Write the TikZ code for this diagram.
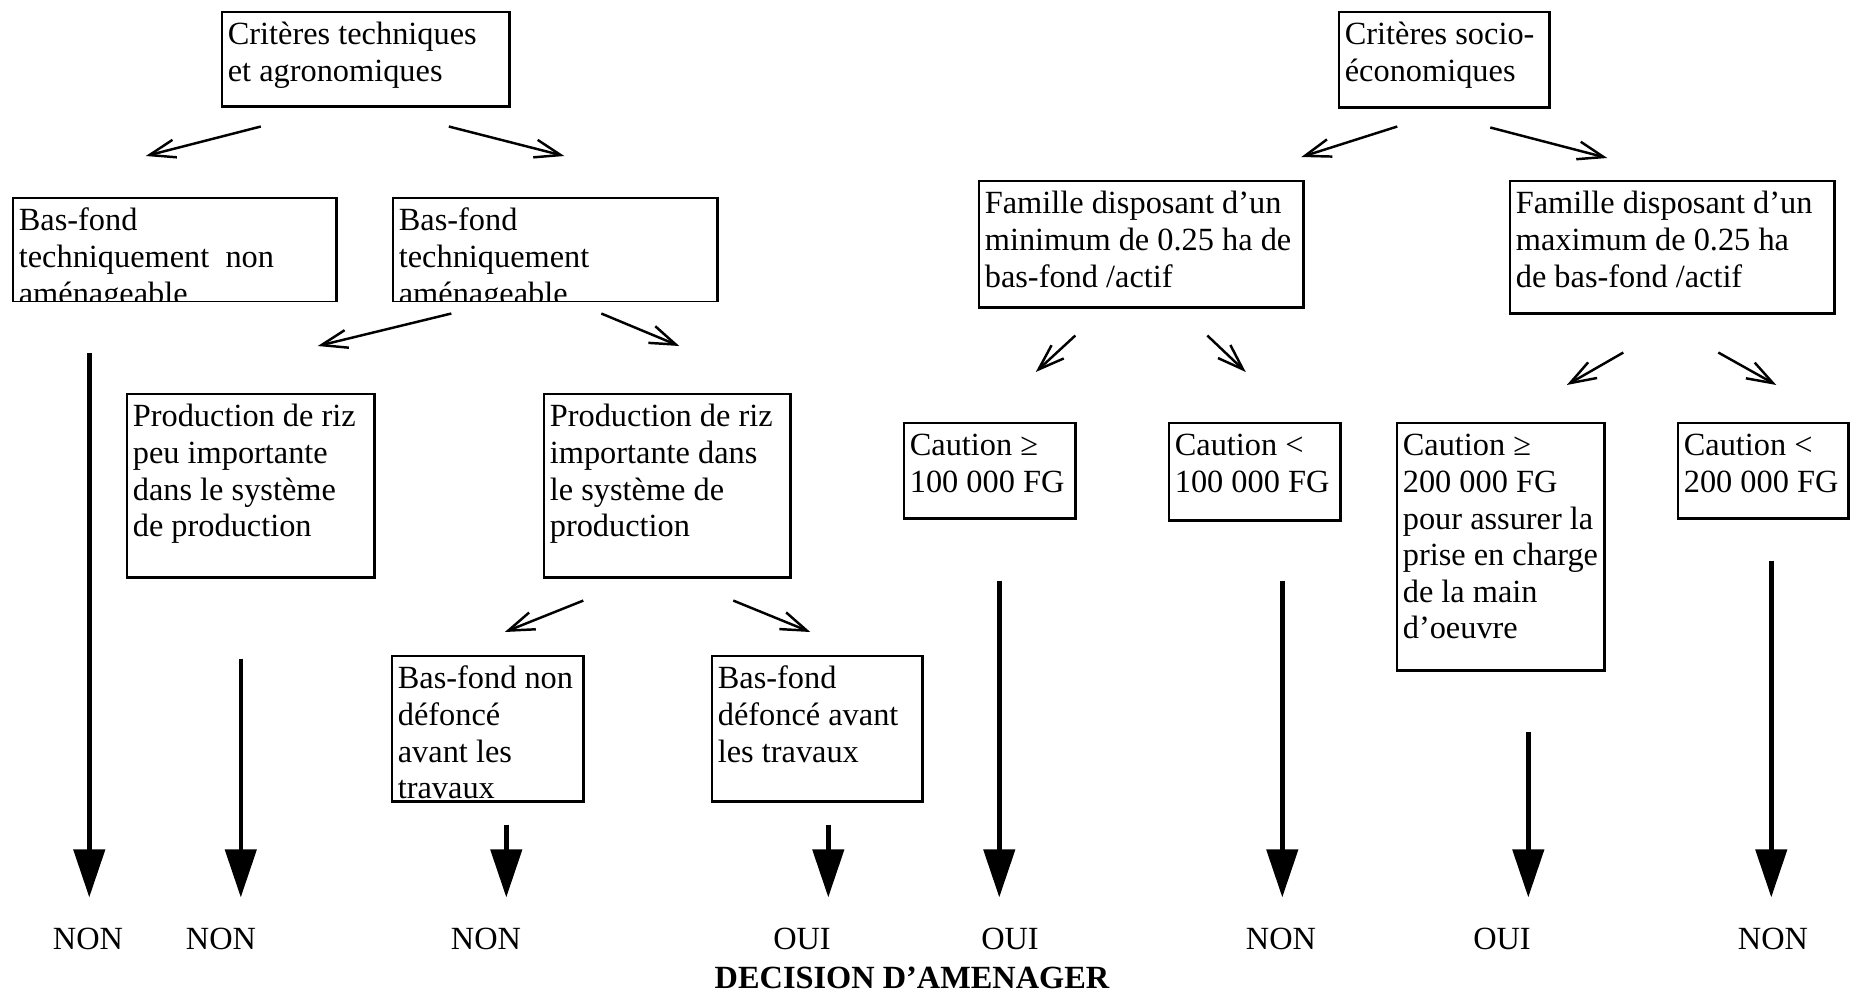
\documentclass[tikz,border=0pt]{standalone}
\usepackage{fontspec}
\setmainfont{Liberation Serif}
\usetikzlibrary{arrows.meta}
\newcommand{\boxtext}[3]{\parbox[t][#2][t]{#1}{\leftskip=1.6pt\rightskip=0pt plus 1fil\rule{0pt}{9.3pt}#3}}

\begin{document}
\begin{tikzpicture}[x=0.01cm, y=-0.01cm, font=\fontsize{9.2}{10.4}\selectfont]

\tikzstyle{critbox} = [rectangle, draw=black, line width=0.7pt, inner sep=0pt, anchor=north west]
\tikzstyle{answer} = [inner sep=0pt]
\tikzstyle{arrow} = [line width=0.7pt, -{Straight Barb[length=2.6mm,width=1.8mm]}]
\tikzstyle{decide} = [line width=1.3pt, -{Triangle[length=4.8mm,width=3.1mm]}, shorten >=0.3cm]

\useasboundingbox (0,0) rectangle (1850,994);

% technical side
\node (crittech) [critbox] at (221,11) {\boxtext{2.87cm}{0.94cm}{Critères techniques\\et agronomiques}};
\begin{scope}
\clip (9,194) rectangle (338,302);
\node (bfnon) [critbox] at (12,197) {\boxtext{3.23cm}{1.04cm}{Bas-fond\\techniquement~ non\\aménageable}};
\end{scope}
\begin{scope}
\clip (389,194) rectangle (719,302);
\node (bfam) [critbox] at (392,197) {\boxtext{3.24cm}{1.04cm}{Bas-fond\\techniquement\\aménageable}};
\end{scope}
\node (prodpeu) [critbox] at (126,393) {\boxtext{2.47cm}{1.83cm}{Production de riz\\peu importante\\dans le système\\de production}};
\node (prodimp) [critbox] at (543,393) {\boxtext{2.46cm}{1.83cm}{Production de riz\\importante dans\\le système de\\production}};
\node (bfnondef) [critbox] at (391,655) {\boxtext{1.91cm}{1.45cm}{Bas-fond non\\défoncé\\avant les\\travaux}};
\node (bfdef) [critbox] at (711,655) {\boxtext{2.10cm}{1.45cm}{Bas-fond\\défoncé avant\\les travaux}};

% socio-economic side
\node (critsoc) [critbox] at (1338,11) {\boxtext{2.10cm}{0.95cm}{Critères socio-\\économiques}};
\node (fammin) [critbox] at (978,180) {\boxtext{3.24cm}{1.26cm}{Famille disposant d’un\\minimum de 0.25 ha de\\bas-fond /actif}};
\node (fammax) [critbox] at (1509,180) {\boxtext{3.24cm}{1.32cm}{Famille disposant d’un\\maximum de 0.25 ha\\de bas-fond /actif}};
\node (caut1) [critbox] at (903,422) {\boxtext{1.71cm}{0.95cm}{Caution ≥\\100 000 FG}};
\node (caut2) [critbox] at (1168,422) {\boxtext{1.71cm}{0.97cm}{Caution <\\100 000 FG}};
\node (caut3) [critbox] at (1396,422) {\boxtext{2.07cm}{2.47cm}{Caution ≥\\200 000 FG\\pour assurer la\\prise en charge\\de la main\\d’oeuvre}};
\node (caut4) [critbox] at (1677,422) {\boxtext{1.70cm}{0.95cm}{Caution <\\200 000 FG}};

% answers
\node (non1) [answer] at (88,939) {NON};
\node (non2) [answer] at (221,939) {NON};
\node (non3) [answer] at (486,939) {NON};
\node (oui1) [answer] at (802,939) {OUI};
\node (oui2) [answer] at (1010,939) {OUI};
\node (non4) [answer] at (1281,939) {NON};
\node (oui3) [answer] at (1502,939) {OUI};
\node (non5) [answer] at (1773,939) {NON};
\node (decision) [answer, font=\fontsize{9.2}{10.4}\selectfont\bfseries] at (912,978) {DECISION D’AMENAGER};

\draw [arrow] ([shift={(-105,19)}]crittech.south) -- ([shift={(-29,-41)}]bfnon.north);
\draw [arrow] ([shift={(83,19)}]crittech.south) -- ([shift={(9,-41)}]bfam.north);
\draw [arrow] ([shift={(-104,10)}]bfam.south) -- ([shift={(67,-47)}]prodpeu.north);
\draw [arrow] ([shift={(46,10)}]bfam.south) -- ([shift={(12,-47)}]prodimp.north);
\draw [arrow] ([shift={(-84,22)}]prodimp.south) -- ([shift={(17,-23)}]bfnondef.north);
\draw [arrow] ([shift={(66,22)}]prodimp.south) -- ([shift={(-7,-23)}]bfdef.north);
\draw [arrow] ([shift={(-47,18)}]critsoc.south) -- ([shift={(160,-23)}]fammin.north);
\draw [arrow] ([shift={(46,19)}]critsoc.south) -- ([shift={(-65,-22)}]fammax.north);
\draw [arrow] ([shift={(-66,27)}]fammin.south) -- ([shift={(46,-50)}]caut1.north);
\draw [arrow] ([shift={(66,27)}]fammin.south) -- ([shift={(-9,-50)}]caut2.north);
\draw [arrow] ([shift={(-49,38)}]fammax.south) -- ([shift={(66,-37)}]caut3.north);
\draw [arrow] ([shift={(46,38)}]fammax.south) -- ([shift={(13,-37)}]caut4.north);

\draw [decide] ([xshift=-0.855cm,yshift=-0.49cm]bfnon.south) -- ([xshift=-0.855cm]bfnon.south |- non1.north);
\draw [decide] ([xshift=-0.1cm,yshift=-0.8cm]prodpeu.south) -- ([xshift=-0.1cm]prodpeu.south |- non2.north);
\draw [decide] ([xshift=0.185cm,yshift=-0.22cm]bfnondef.south) -- ([xshift=0.185cm]bfnondef.south |- non3.north);
\draw [decide] ([xshift=0.11cm,yshift=-0.22cm]bfdef.south) -- ([xshift=0.11cm]bfdef.south |- oui1.north);
\draw [decide] ([xshift=0.095cm,yshift=-0.61cm]caut1.south) -- ([xshift=0.095cm]caut1.south |- oui2.north);
\draw [decide] ([xshift=0.275cm,yshift=-0.59cm]caut2.south) -- ([xshift=0.275cm]caut2.south |- non4.north);
\draw [decide] ([xshift=0.275cm,yshift=-0.6cm]caut3.south) -- ([xshift=0.275cm]caut3.south |- oui3.north);
\draw [decide] ([xshift=0.08cm,yshift=-0.41cm]caut4.south) -- ([xshift=0.08cm]caut4.south |- non5.north);

\end{tikzpicture}
\end{document}
